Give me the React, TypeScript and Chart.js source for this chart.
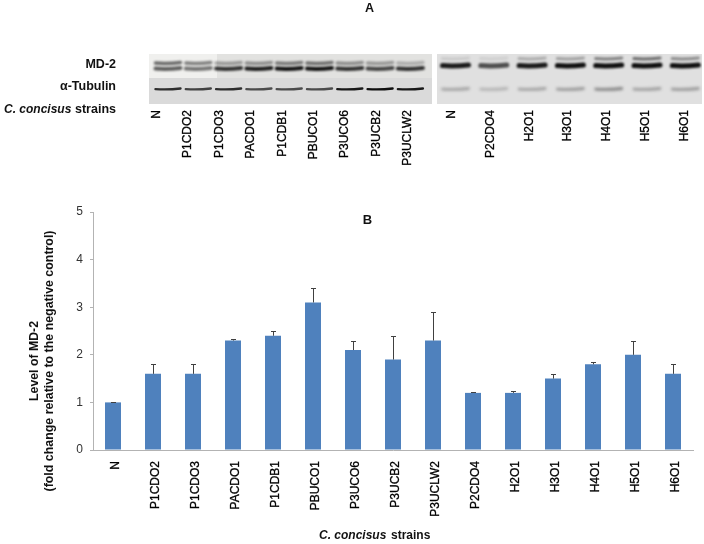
import React, { useEffect, useRef } from "react";
import { Chart, registerables } from "chart.js";

Chart.register(...registerables);

const categories = ["N", "P1CDO2", "P1CDO3", "PACDO1", "P1CDB1", "PBUCO1", "P3UCO6", "P3UCB2", "P3UCLW2", "P2CDO4", "H2O1", "H3O1", "H4O1", "H5O1", "H6O1"];
const mdLevels = [1, 1.6, 1.6, 2.3, 2.4, 3.1, 2.1, 1.9, 2.3, 1.2, 1.2, 1.5, 1.8, 2.0, 1.6];
const errorTops = [1.01, 1.8, 1.8, 2.34, 2.5, 3.4, 2.3, 2.4, 2.9, 1.22, 1.25, 1.6, 1.85, 2.3, 1.8];

const leftLanes = ["N", "P1CDO2", "P1CDO3", "PACDO1", "P1CDB1", "PBUCO1", "P3UCO6", "P3UCB2", "P3UCLW2"];
const rightLanes = ["N", "P2CDO4", "H2O1", "H3O1", "H4O1", "H5O1", "H6O1"];
const leftMdTop = [0.6, 0.5, 0.35, 0.4, 0.5, 0.55, 0.4, 0.35, 0.25];
const leftMdLow = [0.65, 0.55, 0.85, 0.95, 1, 1, 0.85, 0.75, 0.85];
const leftTub = [0.85, 0.75, 0.85, 0.7, 0.7, 0.7, 0.95, 1, 0.95];
const rightMdTop = [0.1, 0.08, 0.25, 0.3, 0.45, 0.55, 0.4];
const rightMdLow = [0.95, 0.7, 0.95, 1, 1, 1, 1];
const rightTub = [0.3, 0.22, 0.3, 0.35, 0.45, 0.32, 0.35];

const font = "'Liberation Sans', Arial, sans-serif";

function bands(ctx: CanvasRenderingContext2D, vals: number[], startX: number, pitch: number, w: number, y: number, h: number, blur: number) {
  ctx.save();
  ctx.filter = `blur(${blur}px)`;
  vals.forEach((v, i) => {
    ctx.strokeStyle = `rgba(15,15,15,${v})`;
    ctx.lineWidth = h;
    ctx.lineCap = "round";
    ctx.beginPath();
    ctx.moveTo(startX + i * pitch, y + 0.6);
    ctx.quadraticCurveTo(startX + i * pitch + w / 2, y + 1.4, startX + i * pitch + w, y);
    ctx.stroke();
  });
  ctx.restore();
}

function text(ctx: CanvasRenderingContext2D, s: string, x: number, y: number, f: string, align: CanvasTextAlign = "left", rot = 0, color = "#111", stroke = 0) {
  ctx.save();
  ctx.translate(x, y);
  ctx.rotate(rot);
  ctx.font = f;
  ctx.fillStyle = color;
  ctx.textAlign = align;
  ctx.textBaseline = "middle";
  if (stroke) {
    ctx.lineWidth = stroke;
    ctx.strokeStyle = color;
    ctx.strokeText(s, 0, 0);
  }
  ctx.fillText(s, 0, 0);
  ctx.restore();
}

const errorBars = {
  id: "errorBars",
  afterDatasetsDraw(chart: any) {
    const { ctx } = chart;
    const meta = chart.getDatasetMeta(0);
    const y = chart.scales.y;
    ctx.save();
    ctx.strokeStyle = "#404040";
    ctx.lineWidth = 1;
    meta.data.forEach((bar: any, i: number) => {
      const top = Math.round(y.getPixelForValue(errorTops[i])) + 0.5;
      const base = y.getPixelForValue(mdLevels[i]);
      const x = Math.round(bar.x) + 0.5;
      ctx.beginPath();
      ctx.moveTo(x, base);
      ctx.lineTo(x, top);
      ctx.moveTo(x - 2.5, top);
      ctx.lineTo(x + 2.5, top);
      ctx.stroke();
    });
    ctx.restore();
  },
};

const panelA = {
  id: "panelA",
  beforeDraw(chart: any) {
    const { ctx } = chart;
    ctx.save();
    text(ctx, "A", 369.5, 9, `bold 12.5px ${font}`, "center");
    text(ctx, "B", 367.5, 220, `bold 13px ${font}`, "center");
    text(ctx, "MD-2", 116, 65, `bold 12.5px ${font}`, "right");
    text(ctx, "α-Tubulin", 116, 87, `bold 12.5px ${font}`, "right");
    text(ctx, "C. concisus", 4, 110, `italic bold 12px ${font}`);
    text(ctx, "strains", 116, 110, `bold 12.5px ${font}`, "right");

    ctx.fillStyle = "#e2e2e0";
    ctx.fillRect(149, 54, 283, 24);
    ctx.fillStyle = "#f0f0ee";
    ctx.fillRect(149, 54, 68, 24);
    ctx.fillStyle = "#dadada";
    ctx.fillRect(149, 78, 283, 26);
    ctx.fillStyle = "#e0e0e0";
    ctx.fillRect(437, 54, 265, 50);

    ctx.save();
    ctx.beginPath();
    ctx.rect(149, 54, 283, 50);
    ctx.clip();
    bands(ctx, leftMdTop, 155.5, 30.3, 25, 62.5, 3.5, 1.1);
    bands(ctx, leftMdLow, 155.5, 30.3, 25, 68, 4, 1);
    bands(ctx, leftTub, 155.5, 30.3, 25, 88.5, 2.4, 0.7);
    ctx.restore();
    ctx.save();
    ctx.beginPath();
    ctx.rect(437, 54, 265, 50);
    ctx.clip();
    bands(ctx, rightMdTop, 442.5, 38.3, 26, 58, 3, 1.3);
    bands(ctx, rightMdLow, 442.5, 38.3, 26, 65, 5, 1);
    bands(ctx, rightTub, 442.5, 38.3, 26, 88.5, 2.8, 1.4);
    ctx.restore();

    leftLanes.forEach((l, i) => text(ctx, l, 157 + (i ? 31.4 * i - 0.4 : 0), 110, `12px ${font}`, "right", -Math.PI / 2, "#000", 0.3));
    rightLanes.forEach((l, i) => text(ctx, l, 452 + 38.7 * i, 110, `12px ${font}`, "right", -Math.PI / 2, "#000", 0.3));

    text(ctx, "Level of MD-2", 35, 361, `bold 12.3px ${font}`, "center", -Math.PI / 2);
    text(ctx, "(fold change relative to the negative control)", 50, 361, `bold 12.4px ${font}`, "center", -Math.PI / 2);
    text(ctx, "C. concisus", 319, 536, `italic bold 12px ${font}`);
    text(ctx, "strains", 391, 536, `bold 12px ${font}`);
    ctx.restore();
  },
};

export default function App() {
  const ref = useRef<HTMLCanvasElement>(null);
  useEffect(() => {
    document.body.style.margin = "0";
    const chart = new Chart(ref.current!, {
      type: "bar",
      data: {
        labels: categories,
        datasets: [{ label: "Level of MD-2", data: mdLevels, backgroundColor: "#4f81bd", barPercentage: 0.4, categoryPercentage: 1 }],
      },
      options: {
        animation: false,
        responsive: false,
        layout: { padding: { top: 212, right: 11, left: 0, bottom: 0 } },
        plugins: { legend: { display: false }, tooltip: { enabled: false } },
        scales: {
          x: {
            grid: { display: false, drawTicks: false },
            border: { color: "#b3b3b3" },
            ticks: { color: "#000", textStrokeColor: "#000", textStrokeWidth: 0.3, font: { family: font, size: 12 }, minRotation: 90, maxRotation: 90, padding: 11, labelOffset: 3, autoSkip: false },
            afterFit: (s: any) => { s.height = 94; },
          },
          y: {
            min: 0,
            max: 5,
            grid: { drawOnChartArea: false, drawTicks: true, tickLength: 3, color: "#b3b3b3" },
            border: { color: "#b3b3b3" },
            ticks: { stepSize: 1, color: "#333", font: { family: font, size: 12 }, padding: 7 },
            afterFit: (s: any) => { s.width = 93; },
          },
        },
      },
      plugins: [panelA, errorBars],
    });
    return () => chart.destroy();
  }, []);
  return <canvas ref={ref} width={704} height={544} style={{ display: "block" }} />;
}
